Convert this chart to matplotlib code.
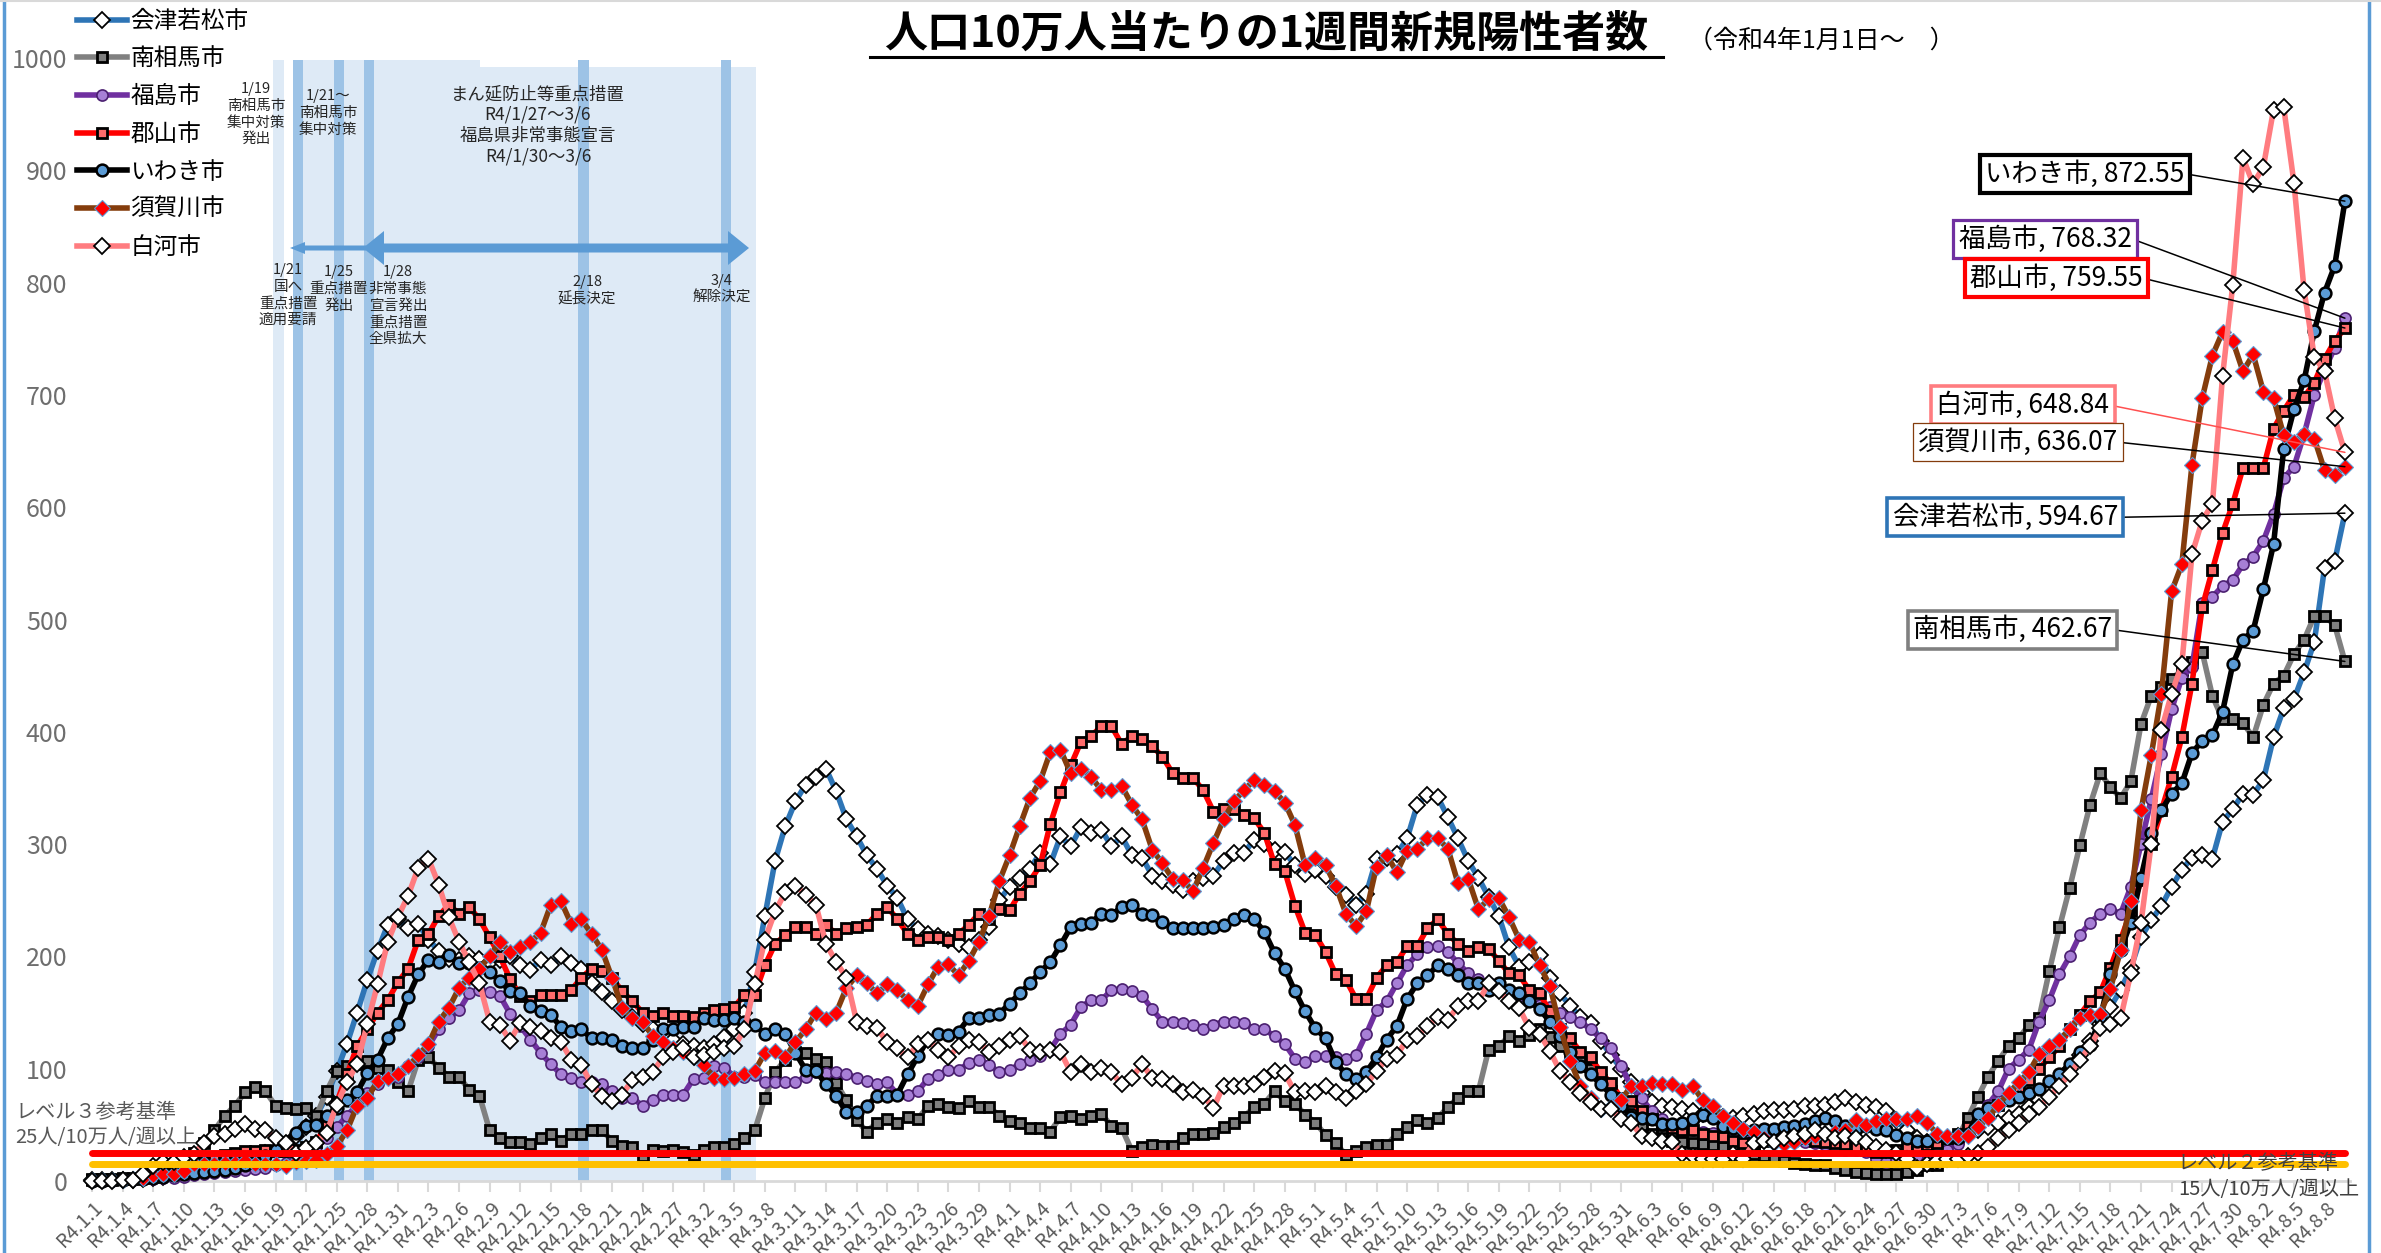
import datetime as dt
import matplotlib.pyplot as plt
import matplotlib.patches as patches
from matplotlib.lines import Line2D
import numpy as np

plt.rcParams['font.family'] = ['Noto Sans CJK JP', 'DejaVu Sans']

# daily values, 2022-01-01 .. 2022-08-10
start = dt.date(2022, 1, 1)
n_days = 222

aizu = [
    1, 1, 1, 1, 1, 2, 3, 4, 5, 6, 8, 10, 12, 14, 17, 20, 22, 25, 28, 33,
    40, 48, 58, 75, 98, 122, 150, 179, 205, 228, 233,                      # Jan
    225, 229, 215, 205, 198, 197, 200, 198, 195, 197, 200, 192, 188, 197,
    192, 200, 194, 189, 176, 168, 160, 152, 146, 140, 135, 130, 126, 122,  # Feb
    120, 118, 122, 128, 135, 150, 186, 236, 285, 316, 338, 353, 360, 367,
    347, 322, 307, 290, 278, 263, 252, 233, 224, 220, 218, 215, 211, 208,
    215, 226, 250,                                                         # Mar
    262, 270, 278, 292, 282, 307, 298, 315, 310, 313, 298, 307, 290, 288,
    272, 267, 264, 259, 267, 270, 272, 285, 292, 292, 304, 300, 295, 293,
    281, 273,                                                              # Apr
    277, 272, 262, 255, 246, 256, 287, 288, 291, 305, 335, 344, 342, 324,
    305, 285, 270, 253, 236, 208, 191, 195, 201, 181, 167, 156, 146, 141,
    125, 112, 100,                                                         # May
    88, 78, 70, 67, 66, 64, 62, 60, 58, 57, 56, 58, 60, 62, 63, 63, 64, 67,
    67, 68, 70, 74, 70, 68, 66, 62, 54, 45, 38, 35,                        # Jun
    35, 38, 40, 42, 45, 48, 52, 56, 60, 66, 72, 80, 90, 100, 112, 125, 140,
    155, 170, 190, 217, 232, 245, 262, 277, 288, 290, 287, 320, 331, 345,  # Jul
    344, 357, 395, 421, 429, 453, 480, 546, 552, 594.67,                   # Aug
]

minamisoma = [
    2, 2, 2, 3, 3, 4, 5, 7, 12, 18, 25, 34, 45, 58, 67, 79, 84, 80, 67, 65,
    64, 65, 58, 80, 98, 102, 104, 107, 101, 99, 88,
    80, 108, 110, 101, 93, 93, 81, 76, 45, 38, 35, 35, 33, 38, 42, 36, 42,
    42, 45, 45, 36, 31, 30, 22, 28, 27, 28, 26,
    23, 28, 30, 30, 33, 38, 45, 74, 97, 108, 115, 114, 109, 106, 87, 72, 54,
    44, 52, 55, 52, 57, 55, 67, 69, 66, 65, 71, 66, 66, 58,
    53, 52, 47, 47, 44, 57, 58, 55, 58, 60, 49, 47, 27, 30, 32, 31, 31, 38,
    42, 42, 43, 48, 52, 57, 66, 69, 80, 71, 69, 59,
    52, 41, 34, 23, 27, 30, 32, 32, 42, 48, 54, 52, 56, 66, 74, 80, 80, 117,
    120, 129, 125, 130, 135, 128, 120, 115, 110, 100, 90, 80, 70,
    60, 50, 42, 38, 36, 35, 34, 33, 32, 30, 28, 26, 24, 22, 20, 18, 16, 15,
    14, 14, 12, 10, 8, 7, 6, 6, 6, 8, 10, 14,
    14, 22, 38, 56, 75, 93, 107, 120, 127, 139, 145, 187, 226, 261, 299, 335,
    363, 351, 341, 356, 407, 432, 440, 447, 455, 462, 471, 432, 411, 411, 408,
    395, 424, 443, 450, 469, 482, 503, 503, 495, 462.67,
]

fukushima = [
    0, 0, 0, 1, 1, 2, 2, 3, 3, 4, 5, 6, 7, 8, 9, 10, 11, 12, 14, 16, 20,
    25, 30, 38, 48, 58, 68, 78, 86, 92, 93,
    102, 110, 120, 135, 145, 152, 167, 170, 168, 165, 149, 138, 126, 114,
    104, 95, 92, 88, 88, 86, 80, 74, 74, 67, 72, 77, 77, 77,
    91, 92, 102, 101, 93, 93, 94, 88, 88, 88, 88, 93, 97, 96, 97, 95, 92, 89,
    86, 88, 77, 77, 80, 91, 94, 99, 99, 105, 108, 103, 97,
    99, 104, 108, 111, 117, 131, 139, 155, 161, 161, 170, 171, 169, 165, 153,
    142, 142, 141, 139, 135, 139, 142, 142, 141, 135, 135, 129, 122, 109, 106,
    111, 111, 110, 109, 112, 131, 152, 160, 176, 192, 202, 208, 209, 204, 194,
    185, 180, 176, 172, 168, 165, 160, 157, 155, 150, 146, 142, 135, 127, 118,
    102,
    84, 74, 62, 55, 50, 47, 45, 44, 43, 42, 42, 40, 38, 37, 36, 36, 35, 35,
    34, 32, 30, 28, 28, 26, 20, 17, 18, 20, 22, 25,
    25, 28, 33, 42, 55, 68, 80, 100, 108, 117, 142, 161, 184, 200, 219, 230,
    238, 242, 238, 262, 300, 340, 380, 420, 448, 458, 515, 520, 530, 535, 549,
    556, 570, 594, 626, 636, 665, 700, 722, 742, 768.32,
]

koriyama = [
    1, 1, 1, 2, 2, 3, 4, 6, 8, 11, 14, 17, 20, 23, 25, 27, 27, 28, 27, 27,
    28, 30, 35, 50, 70, 95, 120, 135, 150, 161, 177,
    189, 215, 220, 236, 246, 238, 244, 233, 217, 200, 180, 165, 160, 166,
    166, 166, 170, 181, 189, 187, 181, 169, 160, 150, 147, 150, 147, 147,
    146, 150, 152, 153, 155, 166, 166, 192, 211, 219, 226, 226, 220, 228, 220,
    225, 226, 228, 238, 244, 233, 220, 215, 217, 217, 215, 220, 228, 238, 233,
    242,
    241, 256, 267, 281, 318, 346, 370, 391, 396, 405, 405, 389, 396, 394, 387,
    378, 363, 359, 359, 348, 329, 331, 331, 326, 323, 310, 282, 276, 245, 221,
    219, 204, 184, 179, 162, 162, 181, 192, 195, 209, 209, 225, 233, 220, 211,
    205, 208, 207, 196, 185, 183, 170, 167, 151, 135, 127, 115, 110, 97, 87,
    74,
    71, 62, 55, 50, 47, 45, 45, 42, 40, 39, 36, 34, 34, 36, 38, 40, 40, 38,
    36, 35, 34, 33, 30, 28, 26, 26, 28, 30, 30, 32,
    34, 38, 42, 48, 55, 60, 68, 75, 82, 90, 100, 110, 120, 135, 148, 160,
    168, 190, 215, 240, 268, 300, 330, 360, 395, 443, 511, 544, 577, 603, 635,
    635, 635, 670, 686, 700, 698, 711, 732, 748, 759.55,
]

iwaki = [
    0, 0, 1, 1, 2, 2, 3, 4, 5, 6, 7, 8, 9, 10, 12, 14, 16, 22, 28, 35, 43,
    49, 50, 58, 65, 72, 79, 96, 108, 127, 140,
    164, 184, 197, 195, 201, 194, 194, 190, 186, 178, 169, 167, 156, 151,
    148, 137, 134, 135, 127, 127, 126, 120, 118, 118, 126, 135, 135, 137,
    137, 145, 143, 143, 145, 142, 139, 131, 135, 131, 114, 99, 98, 86, 76, 61,
    61, 67, 76, 76, 77, 95, 111, 126, 131, 130, 133, 145, 145, 148, 149,
    158, 167, 176, 186, 195, 210, 226, 229, 230, 238, 237, 244, 246, 238, 237,
    231, 225, 225, 225, 225, 226, 228, 233, 237, 233, 222, 203, 189, 169, 151,
    136, 127, 106, 95, 91, 97, 110, 126, 138, 162, 176, 183, 192, 189, 183,
    176, 176, 170, 176, 170, 167, 160, 153, 142, 129, 115, 102, 95, 86, 77, 67,
    57, 56, 55, 51, 51, 52, 55, 59, 56, 49, 47, 45, 45, 46, 46, 48, 49, 51,
    53, 56, 53, 49, 46, 49, 46, 45, 41, 38, 36, 36,
    40, 38, 38, 42, 60, 65, 68, 72, 75, 78, 82, 89, 95, 104, 115, 121, 145,
    184, 206, 230, 270, 310, 330, 345, 354, 381, 392, 397, 418, 460, 482,
    490, 527, 567, 652, 687, 713, 757, 791, 815, 872.55,
]

sukagawa = [
    1, 1, 1, 1, 2, 3, 5, 6, 6, 9, 15, 15, 15, 16, 16, 18, 15, 15, 15, 13,
    17, 18, 19, 24, 31, 45, 67, 74, 89, 92, 95,
    102, 112, 122, 142, 154, 172, 181, 189, 200, 213, 204, 208, 213, 221,
    246, 249, 229, 233, 220, 206, 181, 154, 145, 142, 129, 124, 118, 115,
    110, 103, 92, 91, 92, 95, 98, 114, 116, 110, 124, 135, 150, 144, 150, 172,
    183, 176, 167, 175, 170, 161, 156, 175, 191, 193, 183, 196, 213, 236, 267,
    290, 316, 341, 356, 382, 384, 363, 367, 360, 348, 348, 352, 335, 322, 295,
    283, 269, 268, 258, 279, 301, 322, 338, 348, 357, 353, 347, 337, 317, 281,
    288, 281, 263, 238, 227, 240, 280, 290, 275, 294, 296, 305, 305, 296, 265,
    269, 242, 251, 252, 235, 215, 213, 192, 174, 137, 107, 85, 74, 64, 66, 72,
    85, 85, 87, 86, 86, 81, 85, 72, 67, 58, 52, 46, 44, 38, 34, 33, 35, 38,
    40, 42, 44, 45, 54, 50, 53, 55, 55, 55, 58, 52,
    42, 40, 40, 40, 48, 56, 68, 78, 88, 97, 113, 120, 126, 135, 145, 148,
    149, 171, 206, 249, 330, 379, 434, 525, 549, 638, 697, 735, 756, 748, 721,
    736, 703, 697, 664, 658, 665, 661, 633, 629, 636.07,
]

shirakawa = [
    0, 0, 0, 1, 1, 6, 13, 17, 17, 21, 24, 34, 40, 42, 46, 51, 46, 45, 38, 34,
    25, 29, 34, 43, 68, 88, 104, 140, 175, 213, 235,
    254, 279, 287, 264, 235, 213, 195, 176, 142, 139, 125, 141, 137, 134,
    127, 124, 108, 103, 86, 76, 71, 77, 90, 93, 97, 110, 115, 118,
    110, 112, 115, 118, 120, 135, 175, 215, 240, 257, 263, 255, 246, 211, 195,
    181, 142, 138, 136, 124, 118, 110, 122, 126, 117, 110, 120, 126, 124, 115,
    120,
    126, 129, 117, 115, 117, 115, 97, 104, 97, 101, 97, 86, 92, 104, 92, 91,
    86, 79, 81, 76, 65, 85, 85, 85, 86, 93, 98, 96, 79, 80,
    79, 85, 79, 74, 80, 86, 98, 109, 112, 126, 129, 138, 146, 143, 156, 160,
    160, 176, 169, 160, 154, 136, 131, 116, 98, 88, 78, 70, 64, 64, 55,
    52, 40, 38, 36, 35, 24, 22, 20, 20, 20, 24, 20, 34, 36, 35, 38, 40, 42,
    45, 42, 38, 40, 38, 35, 30, 28, 25, 20, 12, 15,
    18, 20, 20, 22, 25, 30, 38, 45, 52, 60, 66, 75, 85, 95, 108, 120, 136,
    140, 145, 185, 230, 300, 402, 434, 460, 558, 588, 603, 717, 798, 911,
    888, 903, 954, 956, 889, 793, 734, 721, 679, 648.84,
]

names = ['会津若松市', '南相馬市', '福島市', '郡山市', 'いわき市', '須賀川市', '白河市']
level3 = 25
level2 = 15

# event markers (day index)
event_days = [20, 24, 27, 48, 62]

W, H = 2381, 1253


def fx(px):
    return px / W


def fy(py):
    return 1 - py / H


dates = [start + dt.timedelta(days=i) for i in range(n_days)]
x = np.arange(n_days)

fig = plt.figure(figsize=(W / 100, H / 100), dpi=100)
ax = fig.add_axes([fx(87), fy(1181), (2350 - 87) / W, (1181 - 58) / H])
ax.set_xlim(-0.5, n_days - 0.5)
ax.set_ylim(0, 1000)

# shaded periods
ax.add_patch(patches.Rectangle((17.75, 0), 1.1, 998, fc='#DEEAF6', ec='none', zorder=0))
ax.add_patch(patches.Rectangle((19.7, 0), 18.4, 998, fc='#DEEAF6', ec='none', zorder=0))
ax.add_patch(patches.Rectangle((38.1, 0), 27.0, 992, fc='#DEEAF6', ec='none', zorder=0))
for d in event_days:
    ax.add_patch(patches.Rectangle((d - 0.3, 0), 1.0, 998, fc='#9DC3E6', ec='none', zorder=0.5))

styles = [
    dict(color='#2E75B6', marker='D', mfc='white', mec='black', ms=8, mew=1.3),
    dict(color='#808080', marker='s', mfc='#7F7F7F', mec='black', ms=7.5, mew=2),
    dict(color='#7030A0', marker='o', mfc='#A77FD6', mec='#4B2070', ms=8, mew=1.2),
    dict(color='#FF0000', marker='s', mfc='#FF6B6B', mec='black', ms=7.5, mew=2),
    dict(color='black', marker='o', mfc='#5B9BD5', mec='black', ms=8.5, mew=1.8),
    dict(color='#843C0C', marker='D', mfc='#FF0000', mec='#5B9BD5', ms=8.5, mew=0.8),
    dict(color='#FF7C80', marker='D', mfc='white', mec='black', ms=8, mew=1.3),
]
series = [aizu, minamisoma, fukushima, koriyama, iwaki, sukagawa, shirakawa]

handles = []
for i, (name, vals, st) in enumerate(zip(names, series, styles)):
    ax.plot(x, vals, lw=4, zorder=3 + i, clip_on=False, **st)
    handles.append(Line2D([], [], lw=4, **st))

# reference levels
ax.plot([0, n_days - 1], [level3, level3], color='#FF0000', lw=5, zorder=12, solid_capstyle='round')
ax.plot([0, n_days - 1], [level2, level2], color='#FFC000', lw=5, zorder=12, solid_capstyle='round')

# axes styling
for s in ['top', 'right', 'left']:
    ax.spines[s].set_visible(False)
ax.spines['bottom'].set_color('#D9D9D9')
ax.spines['bottom'].set_linewidth(2)
ax.set_facecolor('none')
ax.set_yticks(range(0, 1001, 100))
ax.tick_params(axis='y', length=0, pad=14, labelsize=18, labelcolor='#6E6E6E')
ax.set_xticks(x[::3])
ax.set_xticklabels([f"R4.{d.month}.{d.day}" for d in dates[::3]], rotation=45,
                   ha='right', va='top', rotation_mode='anchor')
ax.tick_params(axis='x', length=8, width=1.5, color='#D9D9D9', pad=4,
               labelsize=14, labelcolor='#595959')

# end-value labels
labels = [
    ('いわき市', iwaki, 195.5, 897, 'black', 3.0, 'black'),
    ('福島市', fukushima, 191.6, 839, '#7030A0', 2.3, 'black'),
    ('郡山市', koriyama, 192.7, 804, '#FF0000', 3.0, 'black'),
    ('白河市', shirakawa, 189.4, 691, '#FF7C80', 2.6, '#FF5050'),
    ('須賀川市', sukagawa, 188.9, 658, '#843C0C', 0.9, 'black'),
    ('会津若松市', aizu, 187.7, 591, '#2E75B6', 2.6, 'black'),
    ('南相馬市', minamisoma, 188.4, 491, '#808080', 2.6, 'black'),
]
for name, vals, tx, ty, ec, lw, lc in labels:
    ax.annotate(f"{name}, {vals[-1]:.2f}", xy=(n_days - 1, vals[-1]), xytext=(tx, ty),
                ha='center', va='center', fontsize=19, zorder=20,
                bbox=dict(boxstyle='square,pad=0.2', fc='white', ec=ec, lw=lw),
                arrowprops=dict(arrowstyle='-', color=lc, lw=1.1, relpos=(1, 0.5),
                                shrinkA=0, shrinkB=0))

# level texts
fig.text(fx(15), fy(1112), 'レベル３参考基準', fontsize=14.5, color='#595959', va='center')
fig.text(fx(15), fy(1138), '25人/10万人/週以上', fontsize=14.5, color='#595959', va='center')
fig.text(fx(2339), fy(1163), 'レベル２参考基準', fontsize=14.5, color='#404040', va='center', ha='right')
fig.text(fx(2359), fy(1190), '15人/10万人/週以上', fontsize=14.5, color='#404040', va='center', ha='right')

# event texts
ev_kw = dict(fontsize=10.5, color='#262626', ha='center', va='top', linespacing=1.25)
fig.text(fx(256), fy(82), '1/19\n南相馬市\n集中対策\n発出', **ev_kw)
fig.text(fx(328), fy(89), '1/21～\n南相馬市\n集中対策', **ev_kw)
fig.text(fx(538), fy(85), 'まん延防止等重点措置\nR4/1/27～3/6\n福島県非常事態宣言\nR4/1/30～3/6',
         fontsize=12.5, color='#262626', ha='center', va='top', linespacing=1.2)
fig.text(fx(288), fy(263), '1/21\n国へ\n重点措置\n適用要請', **ev_kw)
fig.text(fx(339), fy(265), '1/25\n重点措置\n発出', **ev_kw)
fig.text(fx(398), fy(265), '1/28\n非常事態\n宣言発出\n重点措置\n全県拡大', **ev_kw)
fig.text(fx(587), fy(275), '2/18\n延長決定', **ev_kw)
fig.text(fx(722), fy(274), '3/4\n解除決定', **ev_kw)


def arrow_poly(x0, x1, yc, shaft, head_h, head_l, left=True, right=True):
    pts = []
    if left:
        pts += [(x0, yc), (x0 + head_l, yc - head_h), (x0 + head_l, yc - shaft)]
    else:
        pts += [(x0, yc - shaft)]
    if right:
        pts += [(x1 - head_l, yc - shaft), (x1 - head_l, yc - head_h), (x1, yc),
                (x1 - head_l, yc + head_h), (x1 - head_l, yc + shaft)]
    else:
        pts += [(x1, yc - shaft), (x1, yc + shaft)]
    if left:
        pts += [(x0 + head_l, yc + shaft), (x0 + head_l, yc + head_h)]
    else:
        pts += [(x0, yc + shaft)]
    return [(fx(a), fy(b)) for a, b in pts]


fig.patches.append(patches.Polygon(arrow_poly(290, 366, 248, 2.5, 6, 15, True, False),
                                   closed=True, fc='#5B9BD5', ec='none', transform=fig.transFigure))
fig.patches.append(patches.Polygon(arrow_poly(363, 749, 248, 4.5, 17, 21, True, True),
                                   closed=True, fc='#5B9BD5', ec='none', transform=fig.transFigure))

# title
fig.text(fx(1266), fy(34), '人口10万人当たりの1週間新規陽性者数', fontsize=31, fontweight='bold',
         ha='center', va='center', color='black')
fig.add_artist(Line2D([fx(870), fx(1663)], [fy(57), fy(57)], color='black', lw=2.2))
fig.text(fx(1688), fy(41), '（令和4年1月1日～　）', fontsize=18, ha='left', va='center', color='black')

# legend
fig.legend(handles, names, loc='upper left', bbox_to_anchor=(fx(77), fy(10)), frameon=False,
           fontsize=17, handlelength=2.1, handletextpad=0.15, labelspacing=0.62,
           borderpad=0, borderaxespad=0)

# chart border
fig.add_artist(Line2D([fx(4), fx(4)], [0, 1], color='#5B9BD5', lw=2.5))
fig.add_artist(Line2D([fx(2369), fx(2369)], [0, 1], color='#5B9BD5', lw=2.5))
fig.add_artist(Line2D([0, 1], [fy(1), fy(1)], color='#D9D9D9', lw=1.5))

fig.savefig('out.png', dpi=100, facecolor='white')
